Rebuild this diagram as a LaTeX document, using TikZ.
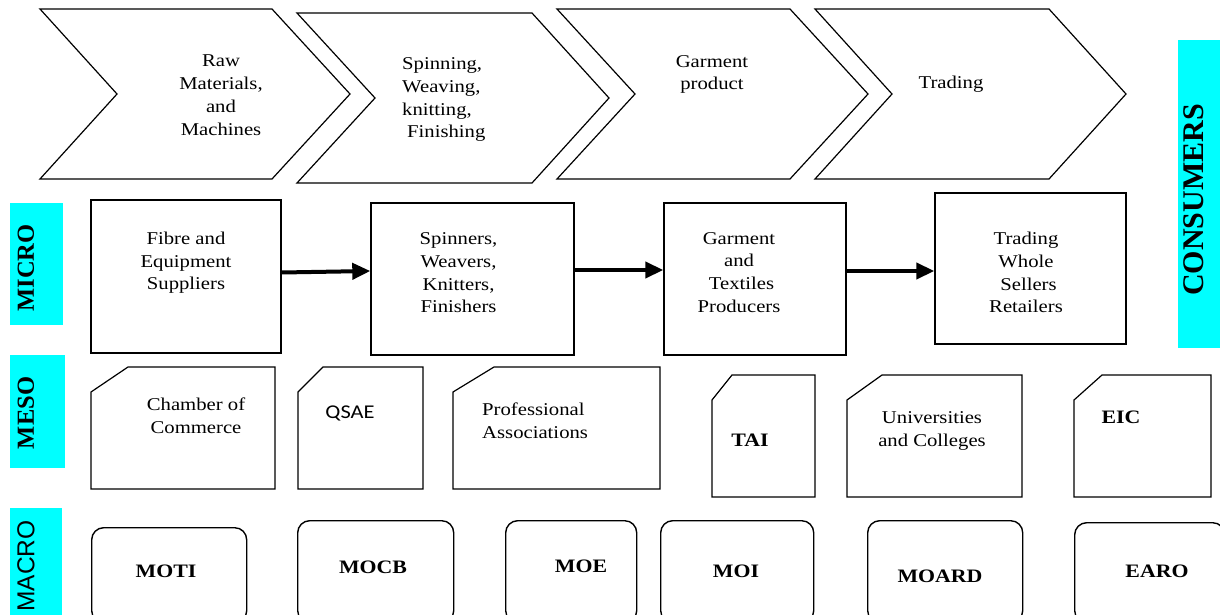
\documentclass[tikz,border=0pt]{standalone}
\usepackage{fontspec}
\setmainfont{Liberation Serif}[FakeStretch=1.15]
\newfontfamily\sidefont{Liberation Serif}
\newfontfamily\sidesans{Liberation Sans}
\newfontfamily\qsaefont{Carlito}[FakeStretch=1.15]
\usepackage{tikz}
\usetikzlibrary{arrows.meta}
\definecolor{levelcyan}{RGB}{0,255,255}

\begin{document}
\begin{tikzpicture}[x=1pt, y=-1pt,
    outline/.style={line width=1.2pt},
    txt/.style={inner sep=0pt, font=\fontsize{18}{22.7}\selectfont},
    tag/.style={inner sep=0pt, font=\fontsize{19}{23}\selectfont\bfseries},
    level/.style={fill=levelcyan},
    levellabel/.style={rotate=90, inner sep=0pt, font=\sidefont\fontsize{24.5}{26}\selectfont\bfseries},
    microbox/.style={draw, line width=1.4pt, rectangle, inner sep=0pt},
    macrobox/.style={draw, line width=1.4pt, rounded corners=12pt, inner sep=0pt},
    flow/.style={line width=4pt, -{Triangle[length=18pt,width=16pt]}}]
    \useasboundingbox (0,0) rectangle (1220,615);
    \clip (0,0) rectangle (1220,615);

    % Value chain steps
    \draw[outline] (40,9) -- (272,9) -- (350,94) -- (272,179) -- (40,179) -- (117,94) -- cycle;
    \draw[outline] (297,13) -- (532,13) -- (609,98) -- (532,183) -- (297,183) -- (375,98) -- cycle;
    \draw[outline] (557,9) -- (790,9) -- (868,94) -- (790,179) -- (557,179) -- (635,94) -- cycle;
    \draw[outline] (815,9) -- (1049,9) -- (1126,94) -- (1049,179) -- (815,179) -- (892,94) -- cycle;
    \node[txt, align=center, anchor=north] at (221,55) (raw) {Raw\\Materials,\\and\\Machines};
    \node[txt, align=left, anchor=north west] at (402,57.7) (spinning) {Spinning,\\Weaving,\\knitting,\\\hspace*{5pt}Finishing};
    \node[txt, align=center, anchor=north] at (712,55) (garmentstep) {Garment\\product};
    \node[txt, anchor=base] at (951,89) (tradingstep) {Trading};

    % Levels
    \fill[level] (10,203) rectangle (63,325);
    \fill[level] (10,355) rectangle (65,468);
    \fill[level] (10,508) rectangle (62,615);
    \fill[level] (1178,40) rectangle (1220,348);
    \node[levellabel] at (26,268) (micro) {MICRO};
    \node[levellabel] at (26,413) (meso) {MESO};
    \node[levellabel, font=\sidesans\fontsize{24.5}{26}\selectfont] at (26,566) (macro) {MACRO};
    \node[levellabel, font=\sidefont\fontsize{30}{32}\selectfont\bfseries] at (1194,200) (consumers) {CONSUMERS};

    % Micro level
    \node[microbox, minimum width=190pt, minimum height=153pt] at (186,276.5) (fibre) {};
    \node[microbox, minimum width=203pt, minimum height=152pt] at (472.5,279) (spin) {};
    \node[microbox, minimum width=182pt, minimum height=152pt] at (755,279) (garment) {};
    \node[microbox, minimum width=191pt, minimum height=151pt] at (1030.5,268.5) (trade) {};
    \node[txt, align=center, anchor=north] at (186,231.7) (fibretext) {Fibre and\\Equipment\\Suppliers};
    \node[txt, align=center, anchor=north] at (458.5,232.7) (spintext) {Spinners,\\Weavers,\\Knitters,\\Finishers};
    \node[txt, align=center, anchor=north] at (739,232) (garmenttext) {Garment\\and\\\hspace*{5pt}Textiles\\Producers};
    \node[txt, align=center, anchor=north] at (1026,232) (tradetext) {Trading\\Whole\\\hspace*{5pt}Sellers\\Retailers};

    \draw[flow] ([yshift=4pt]fibre.east) -- ([yshift=8pt]spin.west);
    \draw[flow] ([yshift=9pt]spin.east) -- ([yshift=9pt]garment.west);
    \draw[flow] ([yshift=8pt]garment.east) -- ([yshift=-2.5pt]trade.west);

    % Meso level
    \draw[outline] (128,367) -- (275,367) -- (275,489) -- (91,489) -- (91,392) -- cycle;
    \draw[outline] (323,367) -- (423,367) -- (423,489) -- (298,489) -- (298,392) -- cycle;
    \draw[outline] (494,367) -- (660,367) -- (660,489) -- (453,489) -- (453,392) -- cycle;
    \draw[outline] (732,375) -- (815,375) -- (815,497) -- (712,497) -- (712,400) -- cycle;
    \draw[outline] (882,375) -- (1022,375) -- (1022,497) -- (847,497) -- (847,400) -- cycle;
    \draw[outline] (1102,375) -- (1211,375) -- (1211,497) -- (1074,497) -- (1074,400) -- cycle;
    \node[txt, align=center, anchor=north] at (196,397.7) (chamber) {Chamber of\\Commerce};
    \node[inner sep=0pt, font=\qsaefont\fontsize{19.5}{22}\selectfont, anchor=base] at (350,418) (qsae) {QSAE};
    \node[txt, align=left, anchor=north west] at (482,402.7) (professional) {Professional\\Associations};
    \node[tag, anchor=base] at (750,446) (tai) {TAI};
    \node[txt, align=center, anchor=north] at (932,411.7) (universities) {Universities\\and Colleges};
    \node[tag, anchor=base] at (1121,423) (eic) {EIC};

    % Macro level
    \node[macrobox, minimum width=155pt, minimum height=95pt, anchor=north west] at (91,527) (moti) {};
    \node[macrobox, minimum width=156pt, minimum height=102pt, anchor=north west] at (297,520) (mocb) {};
    \node[macrobox, minimum width=131pt, minimum height=102pt, anchor=north west] at (505,520) (moe) {};
    \node[macrobox, minimum width=153pt, minimum height=102pt, anchor=north west] at (660,520) (moi) {};
    \node[macrobox, minimum width=155pt, minimum height=102pt, anchor=north west] at (867,520) (moard) {};
    \node[macrobox, minimum width=150pt, minimum height=100pt, anchor=north west] at (1074,522) (earo) {};
    \node[tag, anchor=base] at (166,577) (motitext) {MOTI};
    \node[tag, anchor=base] at (373,573) (mocbtext) {MOCB};
    \node[tag, anchor=base] at (581,572) (moetext) {MOE};
    \node[tag, anchor=base] at (736,577) (moitext) {MOI};
    \node[tag, anchor=base] at (940,582) (moardtext) {MOARD};
    \node[tag, anchor=base] at (1157,577) (earotext) {EARO};
\end{tikzpicture}
\end{document}
